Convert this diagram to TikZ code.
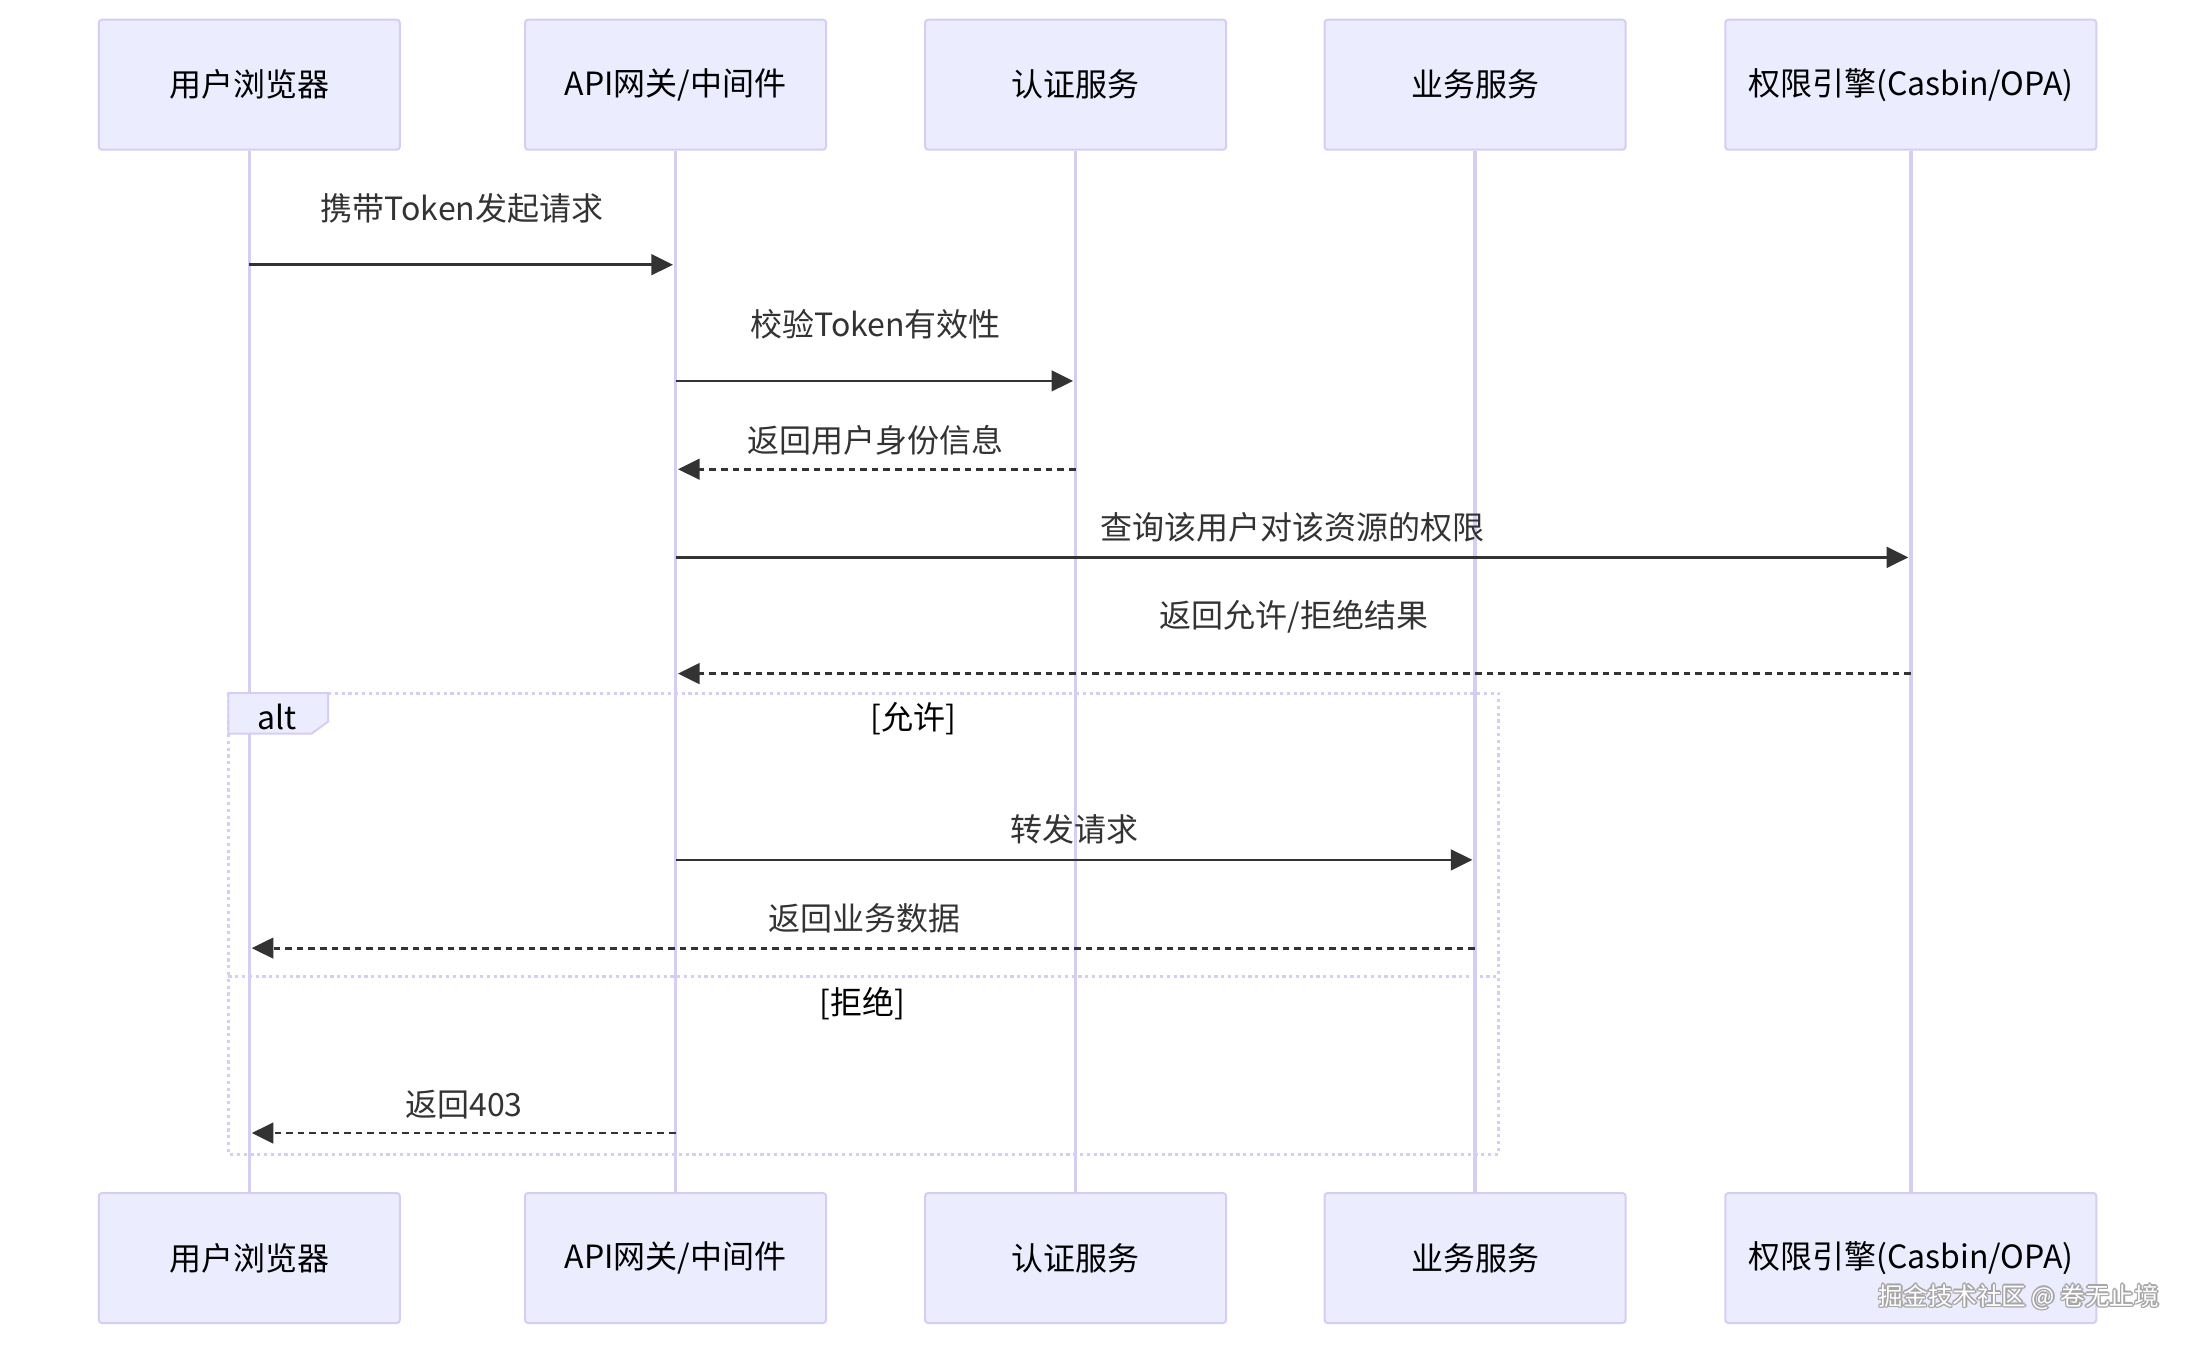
\documentclass[tikz,border=0pt]{standalone}
\usepackage{fontspec}
\setmainfont{Noto Sans CJK SC}
\usetikzlibrary{arrows.meta}
\definecolor{actfill}{HTML}{ECECFF}
\definecolor{actline}{HTML}{D6CEF2}
\definecolor{sig}{HTML}{333333}
\begin{document}
\begin{tikzpicture}[x=0.5pt,y=-0.5pt,
  actor/.style={draw=actline, fill=actfill, line width=1pt, rounded corners=1.5pt,
    minimum height=65pt, minimum width=150.5pt, inner sep=0pt, text=black,
    font=\fontsize{16}{19}\selectfont},
  lifeline/.style={draw=actline, line width=1.8pt},
  msg/.style={draw=sig, line width=1.4pt, -{Triangle[length=10.8pt,width=10.3pt]}},
  reply/.style={msg, dash pattern=on 3.3pt off 2.5pt},
  lbl/.style={text=sig, inner sep=0pt, font=\fontsize{16}{19}\selectfont},
  altline/.style={draw=actline, line width=1.5pt, dash pattern=on 1.6pt off 1.8pt},
  wm/.style={inner sep=0pt, font=\fontsize{12.3}{14}\selectfont}
]
\useasboundingbox (0,0) rectangle (2196,1346);
\fill[white] (0,0) rectangle (2196,1346);
\def\LA{249.3}
\def\LB{675.5}
\def\LC{1075.6}
\def\LD{1475}
\def\LE{1910.8}
% actors
\node[actor] (a1) at (\LA,84.7) {用户浏览器};
\node[actor] (a2) at (\LB,84.7) {API网关/中间件};
\node[actor] (a3) at (\LC,84.7) {认证服务};
\node[actor] (a4) at (\LD,84.7) {业务服务};
\node[actor, minimum width=185.5pt] (a5) at (\LE,84.7) {权限引擎(Casbin/OPA)};
\node[actor] (b1) at (\LA,1258) {用户浏览器};
\node[actor] (b2) at (\LB,1258) {API网关/中间件};
\node[actor] (b3) at (\LC,1258) {认证服务};
\node[actor] (b4) at (\LD,1258) {业务服务};
\node[actor, minimum width=185.5pt] (b5) at (\LE,1258) {权限引擎(Casbin/OPA)};
% lifelines
\foreach \i in {1,...,5}{\draw[lifeline] (a\i.south) -- (b\i.north);}
% alt frame
\coordinate (altTL) at (228.3,693.2);
\coordinate (altBR) at (1498.5,1154);
\draw[altline] (altTL) rectangle (altBR);
\coordinate (sepL) at (228.3,976.1);
\coordinate (sepR) at (1498.5,976.1);
\draw[altline] (sepL) -- (sepR);
\draw[draw=actline, fill=actfill, line width=1pt] (228.3,693.2) -- (328,693.2) -- (328,721.7) -- (311.7,733.5) -- (228.3,733.5) -- cycle;
\node[lbl, text=black] (altlbl) at (277,716.5) {alt};
\node[lbl, text=black] (g1) at (913,719) {[允许]};
\node[lbl, text=black] (g2) at (862.7,1003.3) {[拒绝]};
% message endpoints
\coordinate (m1a) at (\LA,264.7);   \coordinate (m1b) at (\LB-2.5,264.7);
\coordinate (m2a) at (\LB,380.9);   \coordinate (m2b) at (\LC-2.5,380.9);
\coordinate (m3a) at (\LC,469.2);   \coordinate (m3b) at (\LB+2.5,469.2);
\coordinate (m4a) at (\LB,557.4);   \coordinate (m4b) at (\LE-2.5,557.4);
\coordinate (m5a) at (\LE,673.6);   \coordinate (m5b) at (\LB+2.5,673.6);
\coordinate (m6a) at (\LB,859.9);   \coordinate (m6b) at (\LD-2.5,859.9);
\coordinate (m7a) at (\LD,948.1);   \coordinate (m7b) at (\LA+2.5,948.1);
\coordinate (m8a) at (\LB,1133);    \coordinate (m8b) at (\LA+2.5,1133);
\draw[msg] (m1a) -- (m1b);
\draw[msg] (m2a) -- (m2b);
\draw[reply] (m3a) -- (m3b);
\draw[msg] (m4a) -- (m4b);
\draw[reply] (m5a) -- (m5b);
\draw[msg] (m6a) -- (m6b);
\draw[reply] (m7a) -- (m7b);
\draw[reply] (m8a) -- (m8b);
% message labels
\node[lbl] (t1) at (462,208) {携带Token发起请求};
\node[lbl] (t2) at (875.5,324.2) {校验Token有效性};
\node[lbl] (t3) at (875.5,440.5) {返回用户身份信息};
\node[lbl] (t4) at (1292,527.3) {查询该用户对该资源的权限};
\node[lbl] (t5) at (1294,616.9) {返回允许/拒绝结果};
\node[lbl] (t6) at (1074,829.8) {转发请求};
\node[lbl] (t7) at (864,918) {返回业务数据};
\node[lbl] (t8) at (464,1104.3) {返回403};
% watermark
\foreach \dx/\dy in {-1.5/0,1.5/0,0/-1.5,0/1.5,-1/-1,1/1,-1/1,1/-1}{
  \node[wm, text=gray!70] at (2019+\dx,1297+\dy) {掘金技术社区 @ 卷无止境};}
\node[wm, text=white] (wmk) at (2019,1297) {掘金技术社区 @ 卷无止境};
\end{tikzpicture}
\end{document}
